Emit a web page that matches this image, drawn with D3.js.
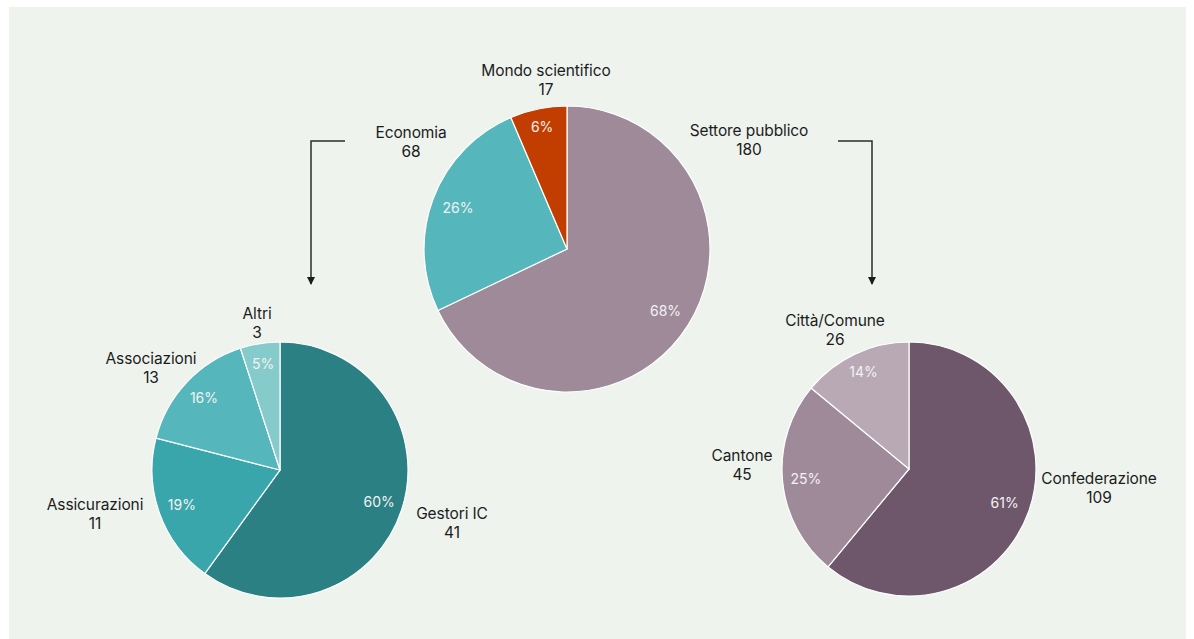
<!DOCTYPE html>
<html lang="it">
  <head>
    <meta charset="utf-8">
    <title>Ripartizione per settore</title>
    <style>
      body { margin: 0; background: #fff; }
      text { font-family: Inter, "Noto Sans", sans-serif; }
      .name { font-size: 15.5px; fill: #1c1c1c; letter-spacing: -0.1px; }
      .pct { font-size: 14px; fill: #f2f2f2; }
      .arrow { stroke: #2b2b2b; stroke-width: 1.5px; fill: none; }
    </style>
  </head>
  <body>
    <svg width="1194" height="639"></svg>
  <script src="https://d3js.org/d3.v7.min.js"></script>
  <script>
  // main split
  var mainNames = ["Settore pubblico", "Economia", "Mondo scientifico"];
  var mainCounts = [180, 68, 17];
  var mainColors = ["#9f8a9a", "#55b7bc", "#c23e00"];

  // Economia breakdown (labels as printed in the source)
  var ecoNames = ["Gestori IC", "Assicurazioni", "Associazioni", "Altri"];
  var ecoCounts = [41, 11, 13, 3];
  var ecoShares = [60, 19, 16, 5];
  var ecoColors = ["#2b8083", "#38a6ab", "#55b7bc", "#86cbcb"];

  // Settore pubblico breakdown
  var pubNames = ["Confederazione", "Cantone", "Città/Comune"];
  var pubCounts = [109, 45, 26];
  var pubShares = [61, 25, 14];
  var pubColors = ["#6e566b", "#9f8a9a", "#b8a9b5"];

  var svg = d3.select("svg");

  svg.append("rect").attr("x", 9).attr("y", 7)
     .attr("width", 1177).attr("height", 632).attr("fill", "#eef3ee");

  // label offsets from the pie centre, [dx, dy of first line baseline]
  var pies = [
    { cx: 567, cy: 249, r: 143, names: mainNames, counts: mainCounts,
      values: mainCounts, colors: mainColors, pctR: [0.815, 0.815, 0.87],
      labelPos: [[182, -113], [-156, -111], [-21, -173]] },
    { cx: 280, cy: 470, r: 128, names: ecoNames, counts: ecoCounts,
      values: ecoShares, colors: ecoColors, pctR: [0.815, 0.815, 0.815, 0.84],
      labelPos: [[172, 49], [-185, 40], [-129, -106], [-23, -151]] },
    { cx: 909, cy: 469, r: 127, names: pubNames, counts: pubCounts,
      values: pubShares, colors: pubColors, pctR: [0.8, 0.815, 0.84],
      labelPos: [[190, 15], [-167, -8], [-74, -143]] }
  ];

  var pie = d3.pie().sort(null).value(function(d) { return d; });

  pies.forEach(function(p) {
    var total = d3.sum(p.values);
    var arcs = pie(p.values);
    var arc = d3.arc().innerRadius(0).outerRadius(p.r);

    var g = svg.append("g").attr("transform", "translate(" + p.cx + "," + p.cy + ")");

    g.selectAll("path").data(arcs).enter().append("path")
      .attr("d", arc)
      .attr("fill", function(d, i) { return p.colors[i]; })
      .attr("stroke", "#fff").attr("stroke-width", 1.2);

    g.selectAll("text.pct").data(arcs).enter().append("text")
      .attr("class", "pct")
      .attr("text-anchor", "middle").attr("dy", "0.35em")
      .attr("transform", function(d, i) {
        var rr = p.r * p.pctR[i];
        var c = d3.arc().innerRadius(rr).outerRadius(rr).centroid(d);
        return "translate(" + c + ")";
      })
      .text(function(d) { return Math.round(d.value / total * 100) + "%"; });

    var lab = g.selectAll("text.name").data(arcs).enter().append("text")
      .attr("class", "name")
      .attr("text-anchor", "middle")
      .attr("x", function(d, i) { return p.labelPos[i][0]; })
      .attr("y", function(d, i) { return p.labelPos[i][1]; });
    lab.append("tspan").text(function(d, i) { return p.names[i]; });
    lab.append("tspan")
      .attr("x", function(d, i) { return p.labelPos[i][0]; })
      .attr("dy", 18.5)
      .text(function(d, i) { return p.counts[i]; });
  });

  // connectors from the main labels down to the breakdowns
  var connectors = [
    [[345, 141], [311, 141], [311, 284]],
    [[838, 141], [872, 141], [872, 284]]
  ];
  connectors.forEach(function(pts) {
    svg.append("path").attr("class", "arrow").attr("d", d3.line()(pts));
    var last = pts[pts.length - 1];
    svg.append("path")
      .attr("d", "M" + (last[0] - 4) + "," + (last[1] - 7) + "L" + (last[0] + 4) + "," + (last[1] - 7) + "L" + last[0] + "," + (last[1] + 1) + "Z")
      .attr("fill", "#1c1c1c");
  });
  </script>
  </body>
</html>
